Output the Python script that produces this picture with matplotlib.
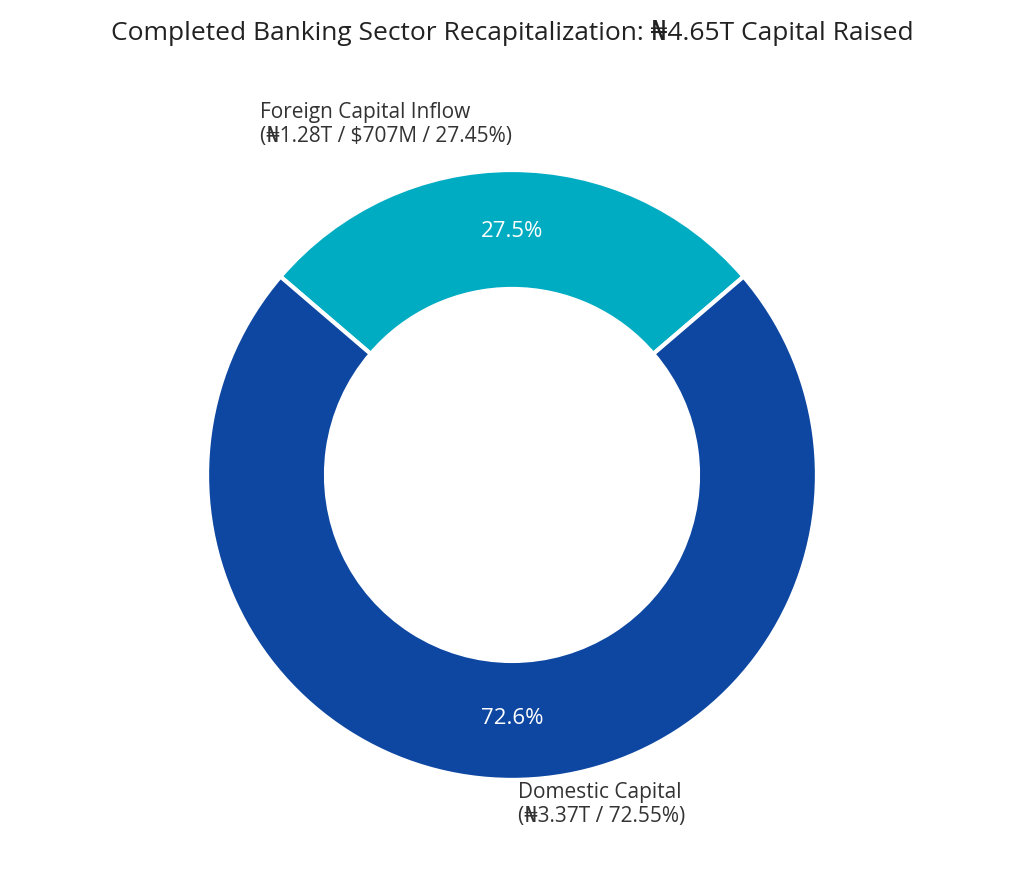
import matplotlib
matplotlib.use("Agg")
import matplotlib.pyplot as plt

categories = ["Foreign Capital Inflow", "Domestic Capital"]
values = [27.45, 72.55]
details = ["(₦1.28T / $707M / 27.45%)", "(₦3.37T / 72.55%)"]
colors = ["#00ACC1", "#0D47A1"]
title = "Completed Banking Sector Recapitalization: ₦4.65T Capital Raised"

plt.rcParams['font.family'] = ['Open Sans', 'DejaVu Sans']
fig = plt.figure(figsize=(10.24, 8.74), dpi=100)
ax = fig.add_axes([0, 0, 1, 1])
start = 90 - values[0] * 360 / 100 / 2
wedges, texts, autotexts = ax.pie(
    values, colors=colors, startangle=start, counterclock=True,
    labels=[f"{c}\n{d}" for c, d in zip(categories, details)],
    autopct="%1.1f%%", pctdistance=0.8, labeldistance=1.1,
    wedgeprops=dict(width=0.39, edgecolor="white", linewidth=3),
    textprops=dict(fontsize=15, color="#333333"))
for t in autotexts:
    t.set_color("white")
    t.set_fontsize(16)
texts[0].set_position((0.0, 1.15))
texts[0].set_ha("right")
texts[0].set_va("center")
texts[1].set_position((0.02, -1.08))
texts[1].set_ha("left")
texts[1].set_va("center")
for t in texts:
    t.set_multialignment("left")
ax.set_aspect("equal")
ax.set_xlim(-1.679, 1.679)
ax.set_ylim(-1.308, 1.557)
ax.axis("off")
fig.text(0.5, 0.962, title, ha="center", va="center", fontsize=19, color="#222222")
fig.savefig("out.png", dpi=100)
